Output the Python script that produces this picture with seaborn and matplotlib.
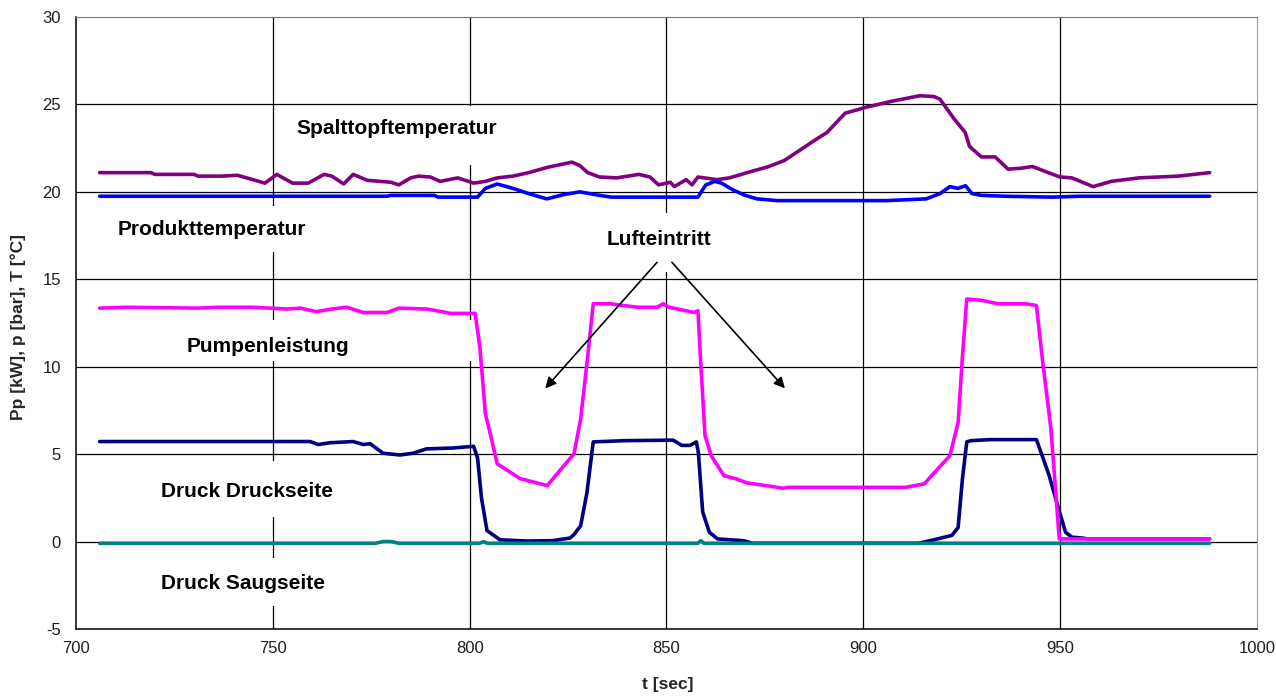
import matplotlib
matplotlib.use("Agg")
import matplotlib.pyplot as plt
import pandas as pd
import seaborn as sns
from matplotlib.patches import Rectangle

# --- measured series (time in s, value in kW / bar / °C) ---
t_spalt = [706, 719, 720, 730, 731, 737, 741, 748, 751, 755, 759, 763, 765, 768, 770.4,
           774, 780, 782, 785, 787, 790, 792.5, 797, 801, 804, 807, 811, 815, 819.7, 826,
           828, 830, 833, 837.4, 843, 845.8, 848, 851, 852, 855, 856.5, 858, 862.8, 866,
           870.5, 876, 880, 884, 888, 890.8, 895.4, 900.9, 907.6, 914.4, 918, 919.5, 923,
           925.9, 927, 930, 933.5, 936.8, 940, 943, 947, 950, 953, 958.4, 963, 970, 980, 988]
v_spalt = [21.1, 21.1, 21.0, 21.0, 20.9, 20.9, 20.95, 20.5, 21.0, 20.5, 20.5, 21.0, 20.9, 20.45, 21.0,
           20.66, 20.55, 20.4, 20.8, 20.9, 20.85, 20.6, 20.8, 20.5, 20.6, 20.8, 20.9, 21.1, 21.4, 21.7,
           21.5, 21.1, 20.85, 20.8, 21.0, 20.85, 20.4, 20.55, 20.3, 20.7, 20.4, 20.85, 20.7, 20.8,
           21.1, 21.45, 21.8, 22.4, 23.0, 23.4, 24.5, 24.85, 25.2, 25.5, 25.45, 25.3, 24.2,
           23.4, 22.6, 22.0, 22.0, 21.3, 21.35, 21.45, 21.1, 20.85, 20.8, 20.3, 20.6, 20.8, 20.9, 21.1]

t_produkt = [706, 779, 780, 791, 792, 802, 804, 807, 811, 815, 819.6, 824, 828, 833, 836, 858,
             860, 862.3, 864, 867, 870, 873, 878, 906, 916, 919.5, 922, 924, 926, 927.6, 930,
             936, 948, 955, 988]
v_produkt = [19.75, 19.75, 19.8, 19.8, 19.7, 19.7, 20.2, 20.45, 20.2, 19.9, 19.6, 19.85, 20.0, 19.8, 19.7, 19.7,
             20.4, 20.6, 20.5, 20.1, 19.8, 19.6, 19.5, 19.5, 19.6, 19.9, 20.3, 20.2, 20.35, 19.9, 19.8,
             19.75, 19.7, 19.75, 19.75]

t_pumpe = [706, 713, 731, 736, 745, 753.6, 757, 761, 765, 768.8, 773, 779, 782, 789, 793, 795,
           801.4, 802.6, 804, 805.2, 807, 812.8, 819.7, 825.5, 826.5, 828.2, 829.8, 831.4, 835.7,
           839, 842.8, 847.6, 849.2, 850.7, 855, 857, 858, 858.7, 859.8, 861.4, 864.6, 867.8,
           870.5, 875.3, 879.6, 881, 910.7, 915.5, 919.3, 922, 924.1, 925.2, 926.3, 930, 934.3,
           941.3, 944, 945.6, 947.7, 949.8, 988]
v_pumpe = [13.35, 13.4, 13.35, 13.4, 13.4, 13.3, 13.35, 13.15, 13.3, 13.4, 13.1, 13.1, 13.35, 13.3, 13.15, 13.05,
           13.05, 11.1, 7.3, 6.2, 4.45, 3.6, 3.2, 4.75, 5.0, 7.0, 10.2, 13.6, 13.6,
           13.5, 13.4, 13.4, 13.6, 13.4, 13.2, 13.1, 13.2, 10.25, 6.05, 4.9, 3.77, 3.58,
           3.35, 3.2, 3.05, 3.1, 3.1, 3.3, 4.25, 4.9, 6.8, 10.6, 13.87, 13.8, 13.6,
           13.6, 13.5, 10.25, 6.4, 0.15, 0.15]

t_druck = [706, 759.5, 761.5, 764.5, 770.4, 773, 774.7, 778, 782.3, 785.6, 789, 795.8, 801, 802,
           803, 804.4, 807.7, 814.6, 821, 825.5, 826.5, 828.2, 829.8, 831.4, 839.4, 851.7, 853.9,
           856, 857.6, 858.1, 859.2, 860.9, 863, 869.5, 872, 914, 917, 922.5, 924.1, 925.2, 926.3,
           927.3, 932.2, 944, 947.2, 949.4, 951.4, 953, 955.7, 957, 988]
v_druck = [5.72, 5.72, 5.55, 5.65, 5.72, 5.55, 5.6, 5.05, 4.95, 5.05, 5.3, 5.35, 5.45, 4.8,
           2.5, 0.63, 0.1, 0.03, 0.05, 0.2, 0.4, 0.9, 2.8, 5.7, 5.77, 5.8, 5.5,
           5.5, 5.7, 5.1, 1.7, 0.53, 0.15, 0.05, -0.1, -0.1, 0.05, 0.35, 0.8, 3.6, 5.7,
           5.77, 5.83, 5.83, 3.8, 2.05, 0.53, 0.25, 0.2, 0.15, 0.15]

t_saug = [706, 776, 778, 780, 782, 802.5, 803.5, 804.5, 858, 858.7, 859.5, 988]
v_saug = [-0.1, -0.1, 0.0, 0.0, -0.1, -0.1, 0.0, -0.1, -0.1, 0.05, -0.1, -0.1]

series_names = ["Spalttopftemperatur", "Produkttemperatur", "Druck Druckseite",
                "Pumpenleistung", "Druck Saugseite"]
series_colors = ["#800080", "#0000FF", "#000080", "#FF00FF", "#008080"]

# label text, centre (t, value), white backing box (t0, t1, v0, v1)
label_text = ["Spalttopftemperatur", "Produkttemperatur", "Pumpenleistung",
              "Druck Druckseite", "Druck Saugseite", "Lufteintritt"]
label_pos = [(781.5, 23.6), (734.5, 17.85), (748.8, 11.15),
             (743.4, 2.85), (742.4, -2.4), (848.0, 17.3)]
label_box = [(753, 809, 21.55, 24.9), (708.6, 762, 16.55, 19.2), (726, 802, 10.3, 12.7),
             (720, 768.3, 1.4, 4.62), (720, 767, -3.66, -0.92), (833, 863.6, 15.4, 18.8)]

arrow_tail = [(847.6, 15.97), (851.4, 15.97)]
arrow_head = [(819.2, 8.76), (880.1, 8.76)]

x_ticks = [700, 750, 800, 850, 900, 950, 1000]
y_ticks = [-5, 0, 5, 10, 15, 20, 25, 30]

sns.set_style("white")
plt.rcParams["font.family"] = ["Liberation Sans", "DejaVu Sans"]
plt.rcParams["axes.unicode_minus"] = False

frames = [
    pd.DataFrame({"t": t_spalt, "v": v_spalt}),
    pd.DataFrame({"t": t_produkt, "v": v_produkt}),
    pd.DataFrame({"t": t_druck, "v": v_druck}),
    pd.DataFrame({"t": t_pumpe, "v": v_pumpe}),
    pd.DataFrame({"t": t_saug, "v": v_saug}),
]

fig, ax = plt.subplots(figsize=(12.76, 6.98), dpi=100)
fig.subplots_adjust(left=0.0596, right=0.985, top=0.9756, bottom=0.0989)

ax.set_xlim(700, 1000)
ax.set_ylim(-5, 30)
ax.set_xticks(x_ticks)
ax.set_yticks(y_ticks)

# interior grid lines (the frame itself is drawn by the spines)
for xv in x_ticks[1:-1]:
    ax.axvline(xv, color="black", lw=0.9, zorder=0.5)
for yv in y_ticks[1:-1]:
    ax.axhline(yv, color="black", lw=0.9, zorder=0.5)

# white backing boxes for the curve labels
for (t0, t1, v0, v1) in label_box:
    ax.add_patch(Rectangle((t0, v0), t1 - t0, v1 - v0, facecolor="white",
                           edgecolor="none", zorder=1))

for i, (df, name, col) in enumerate(zip(frames, series_names, series_colors)):
    sns.lineplot(data=df, x="t", y="v", ax=ax, color=col, lw=2.6,
                 estimator=None, sort=False, label=name, zorder=2 + i)

leg = ax.get_legend()
if leg is not None:
    leg.remove()

for txt, (tx, ty) in zip(label_text, label_pos):
    ax.text(tx, ty, txt, ha="center", va="center", fontsize=15,
            fontweight="bold", color="black", zorder=10)

for tail, head in zip(arrow_tail, arrow_head):
    ax.annotate("", xy=head, xytext=tail,
                arrowprops=dict(arrowstyle="-|>", color="black", lw=1.2,
                                mutation_scale=16, shrinkA=0, shrinkB=0),
                zorder=9)

for side in ["left", "bottom"]:
    ax.spines[side].set_color("black")
    ax.spines[side].set_linewidth(1.1)
ax.spines["top"].set_color("#7a7a7a")
ax.spines["right"].set_color("#a0a0a0")

tick_family = ["Liberation Sans Narrow", "Liberation Sans"]
ax.tick_params(axis="both", direction="out", length=5, width=1, color="black",
               labelsize=12, labelcolor="#1e1e1e")
ax.tick_params(axis="y", pad=6)
ax.tick_params(axis="x", pad=4)
for lab in ax.get_xticklabels() + ax.get_yticklabels():
    lab.set_family(tick_family)

ax.set_xlabel("t [sec]", fontsize=12.5, fontweight="bold", family=tick_family)
ax.set_ylabel("Pp [kW], p [bar], T [°C]", fontsize=12.5, fontweight="bold",
              family=tick_family)
ax.xaxis.set_label_coords(0.501, -0.078)
ax.yaxis.set_label_coords(-0.042, 0.493)

fig.savefig("out.png", dpi=100)
